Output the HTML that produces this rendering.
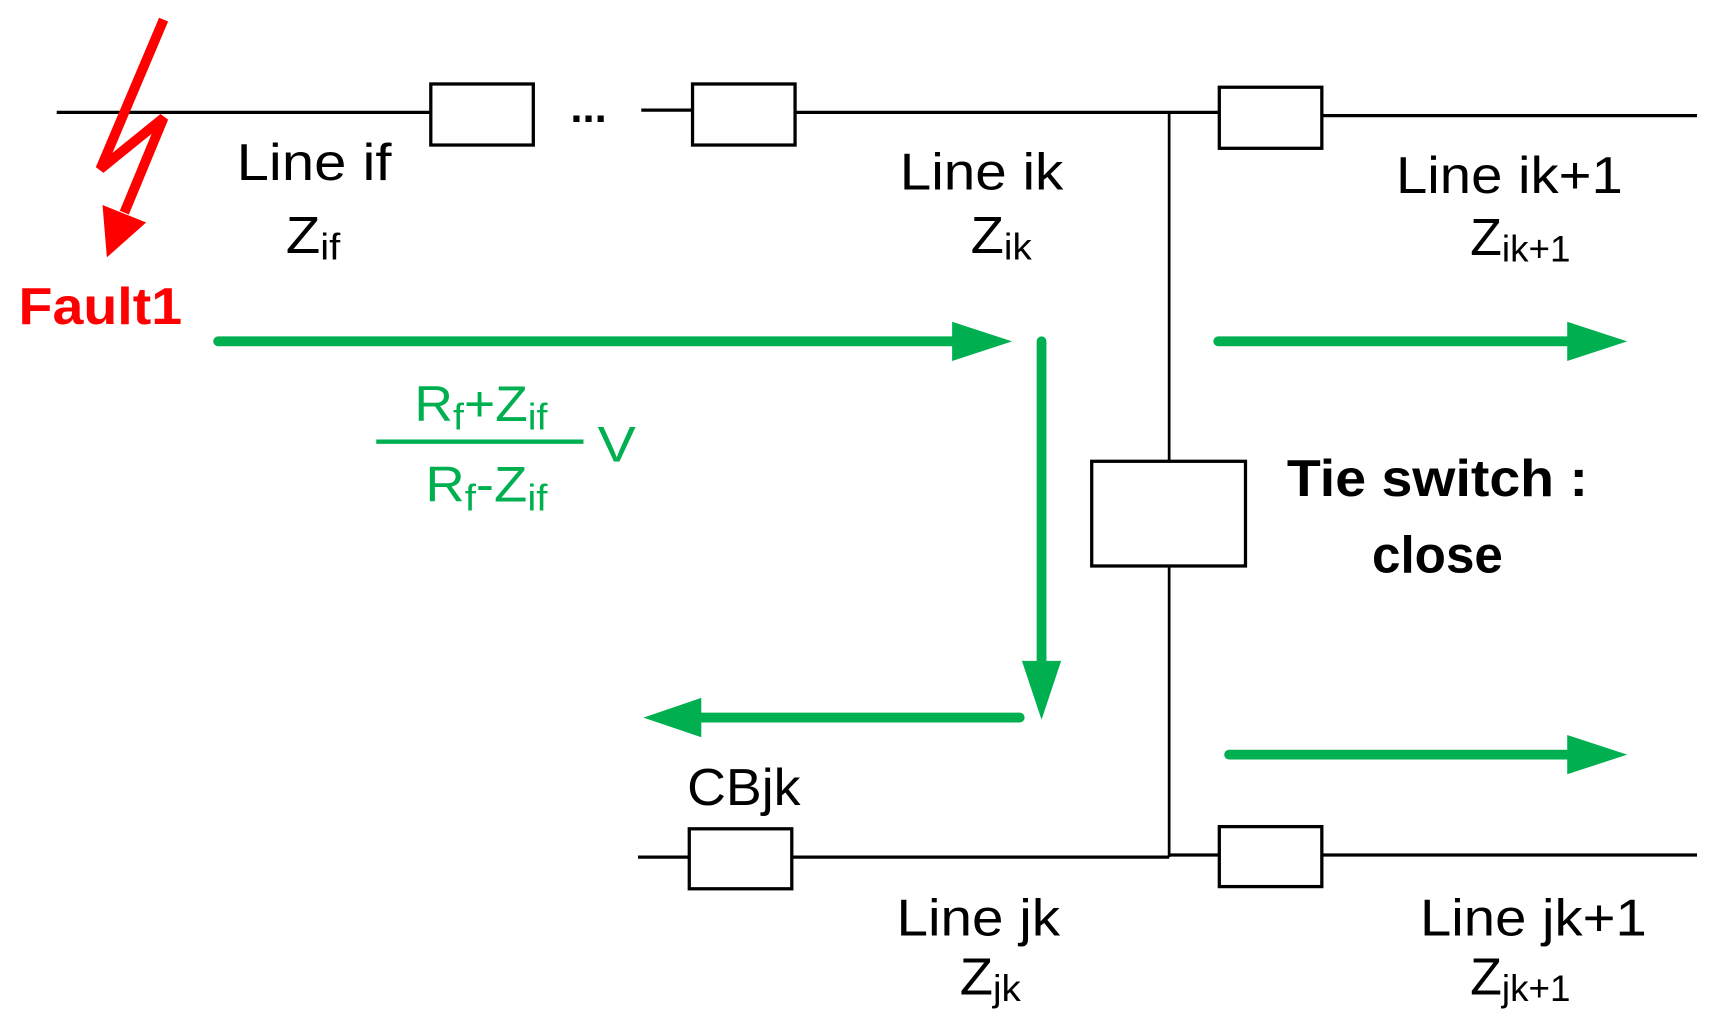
<!DOCTYPE html>
<html><head><meta charset="utf-8"><style>html,body{margin:0;padding:0;background:#fff}svg{display:block}</style></head>
<body>
<svg width="1709" height="1024" viewBox="0 0 1567 939" preserveAspectRatio="none" xmlns="http://www.w3.org/2000/svg" font-family="Liberation Sans, sans-serif">
<g stroke="#000" stroke-width="3" fill="none">
<line x1="52" y1="103" x2="395" y2="103"/>
<rect x="395" y="77" width="94" height="56" fill="#fff"/>
<line x1="588" y1="101" x2="635" y2="101"/>
<rect x="635" y="77" width="94" height="56" fill="#fff"/>
<line x1="729" y1="103" x2="1118" y2="103"/>
<rect x="1118" y="80" width="94" height="56" fill="#fff"/>
<line x1="1212" y1="106" x2="1556" y2="106"/>
<line x1="1072" y1="103" x2="1072" y2="786" stroke-width="2.5"/>
<rect x="1001" y="423" width="141" height="96" fill="#fff"/>
<line x1="585" y1="786" x2="632" y2="786"/>
<rect x="632" y="760" width="94" height="55" fill="#fff"/>
<line x1="726" y1="786" x2="1072" y2="786"/>
<line x1="1072" y1="784" x2="1118" y2="784"/>
<rect x="1118" y="758" width="94" height="55" fill="#fff"/>
<line x1="1212" y1="784" x2="1556" y2="784"/>
</g>
<text x="523" y="112" font-size="40" font-weight="bold">...</text>
<g stroke="#00b050" stroke-width="9" stroke-linecap="round" fill="none">
<line x1="200" y1="313" x2="878" y2="313"/>
<line x1="955" y1="313" x2="955" y2="610"/>
<line x1="935" y1="658" x2="640" y2="658"/>
<line x1="1117" y1="313" x2="1442" y2="313"/>
<line x1="1127" y1="692" x2="1442" y2="692"/>
</g>
<g fill="#00b050">
<polygon points="873,295 928,313 873,331"/>
<polygon points="937,606 973,606 955,660"/>
<polygon points="643,640 590,658 643,676"/>
<polygon points="1437,295 1492,313 1437,331"/>
<polygon points="1437,674 1492,692 1437,710"/>
<rect x="345" y="403" width="190" height="4"/>
</g>
<g fill="#00b050" font-size="46">
<text x="380" y="386" textLength="122" lengthAdjust="spacingAndGlyphs">R<tspan font-size="34" dy="8">f</tspan><tspan dy="-8">+Z</tspan><tspan font-size="34" dy="8">if</tspan></text>
<text x="390" y="460" textLength="112" lengthAdjust="spacingAndGlyphs">R<tspan font-size="34" dy="8">f</tspan><tspan dy="-8">-Z</tspan><tspan font-size="34" dy="8">if</tspan></text>
<text x="548" y="423" textLength="35" lengthAdjust="spacingAndGlyphs">V</text>
</g>
<g fill="#000" font-size="48">
<text x="217" y="165" textLength="142" lengthAdjust="spacingAndGlyphs">Line if</text>
<text x="262" y="232" textLength="50" lengthAdjust="spacingAndGlyphs">Z<tspan font-size="34" dy="6">if</tspan></text>
<text x="825" y="174" textLength="150" lengthAdjust="spacingAndGlyphs">Line ik</text>
<text x="890" y="232" textLength="56" lengthAdjust="spacingAndGlyphs">Z<tspan font-size="34" dy="6">ik</tspan></text>
<text x="1280" y="177" textLength="208" lengthAdjust="spacingAndGlyphs">Line ik+1</text>
<text x="1348" y="234" textLength="92" lengthAdjust="spacingAndGlyphs">Z<tspan font-size="34" dy="6">ik+1</tspan></text>
<text x="630" y="738" textLength="104" lengthAdjust="spacingAndGlyphs">CBjk</text>
<text x="822" y="858" textLength="150" lengthAdjust="spacingAndGlyphs">Line jk</text>
<text x="880" y="912" textLength="56" lengthAdjust="spacingAndGlyphs">Z<tspan font-size="34" dy="6">jk</tspan></text>
<text x="1302" y="858" textLength="208" lengthAdjust="spacingAndGlyphs">Line jk+1</text>
<text x="1348" y="912" textLength="92" lengthAdjust="spacingAndGlyphs">Z<tspan font-size="34" dy="6">jk+1</tspan></text>
<text x="1180" y="455" font-weight="bold" textLength="276" lengthAdjust="spacingAndGlyphs">Tie switch :</text>
<text x="1258" y="525" font-weight="bold" textLength="120" lengthAdjust="spacingAndGlyphs">close</text>
</g>
<text x="17" y="297" fill="#ff0000" font-size="48" font-weight="bold" textLength="150" lengthAdjust="spacingAndGlyphs">Fault1</text>
<polyline points="150,18 92,155 150,108 114,195" stroke="#ff0000" stroke-width="9" fill="none" stroke-linejoin="miter"/>
<polygon points="98,236 94,188 134,204" fill="#ff0000"/>
</svg>
</body></html>
